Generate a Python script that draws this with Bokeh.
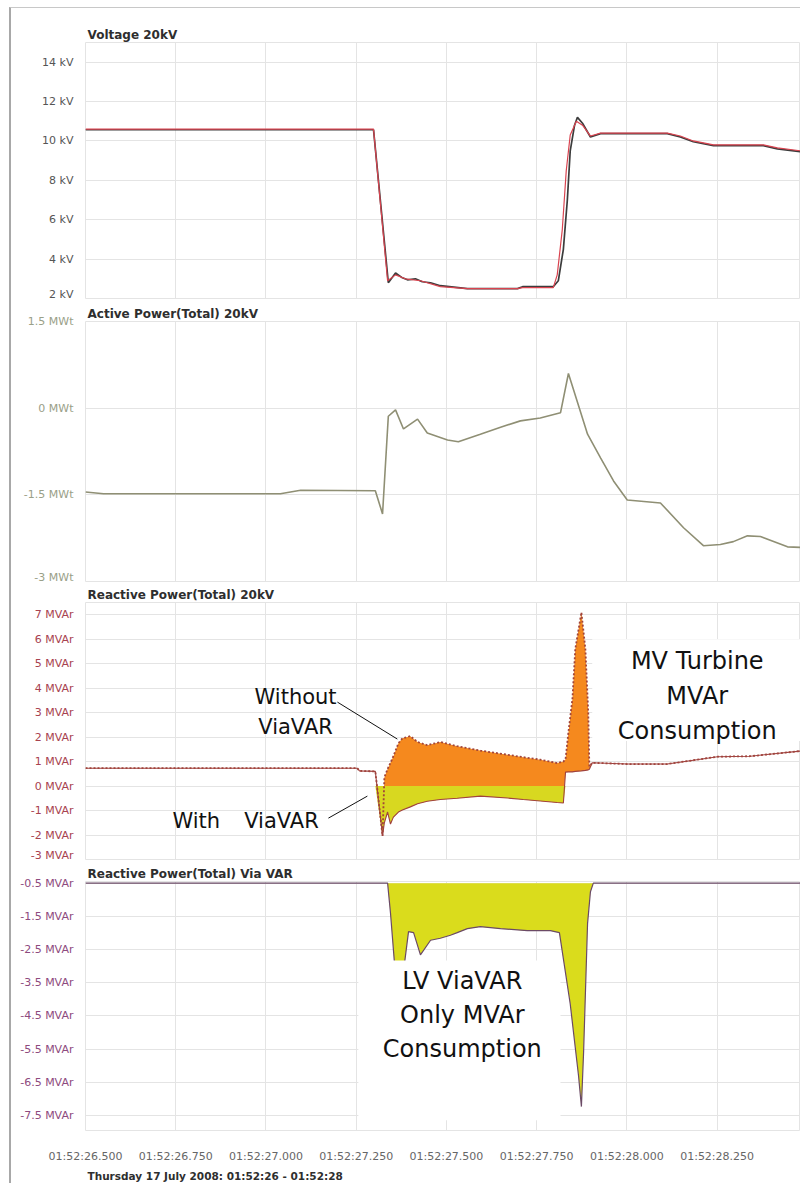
from bokeh.plotting import figure
from bokeh.layouts import column
from bokeh.models import Range1d, FixedTicker, Grid, Label, BoxAnnotation, Arrow, Title
from bokeh.embed import file_html
from bokeh.resources import INLINE
import numpy as np

# ---------------- data (seconds after 01:52:00) ----------------
time_ticks = [26.5, 26.75, 27.0, 27.25, 27.5, 27.75, 28.0, 28.25]
time_tick_labels = ["01:52:26.500", "01:52:26.750", "01:52:27.000", "01:52:27.250",
                    "01:52:27.500", "01:52:27.750", "01:52:28.000", "01:52:28.250"]
x_axis_title = "Thursday 17 July 2008: 01:52:26 - 01:52:28"

voltage_ticks = [2, 4, 6, 8, 10, 12, 14]
voltage_tick_labels = ["2 kV", "4 kV", "6 kV", "8 kV", "10 kV", "12 kV", "14 kV"]
active_ticks = [-3, -1.5, 0, 1.5]
active_tick_labels = ["-3 MWt", "-1.5 MWt", "0 MWt", "1.5 MWt"]
reactive_ticks = [-3, -2, -1, 0, 1, 2, 3, 4, 5, 6, 7]
reactive_tick_labels = ["-3 MVAr", "-2 MVAr", "-1 MVAr", "0 MVAr", "1 MVAr", "2 MVAr",
                        "3 MVAr", "4 MVAr", "5 MVAr", "6 MVAr", "7 MVAr"]
viavar_ticks = [-7.5, -6.5, -5.5, -4.5, -3.5, -2.5, -1.5, -0.5]
viavar_tick_labels = ["-7.5 MVAr", "-6.5 MVAr", "-5.5 MVAr", "-4.5 MVAr", "-3.5 MVAr",
                      "-2.5 MVAr", "-1.5 MVAr", "-0.5 MVAr"]

# Voltage 20kV (two traces)
volt_dark_t = [26.500, 27.298, 27.339, 27.359, 27.378, 27.392, 27.414, 27.433, 27.456, 27.483,
               27.558, 27.697, 27.711, 27.796, 27.810, 27.824, 27.835, 27.843, 27.855, 27.863,
               27.877, 27.899, 27.927, 28.112, 28.148, 28.184, 28.240, 28.378, 28.417, 28.481]
volt_dark_kv = [10.57, 10.57, 2.8, 3.3, 3.05, 2.95, 3.0, 2.85, 2.8, 2.65,
                2.5, 2.5, 2.6, 2.6, 2.9, 4.5, 7.0, 9.5, 10.8, 11.2,
                10.9, 10.2, 10.37, 10.37, 10.2, 9.96, 9.76, 9.76, 9.6, 9.45]
volt_red_t = [26.500, 27.298, 27.337, 27.359, 27.386, 27.428, 27.483, 27.558, 27.697, 27.711,
              27.796, 27.807, 27.821, 27.832, 27.843, 27.860, 27.877, 27.899, 27.927, 28.112,
              28.148, 28.184, 28.240, 28.378, 28.417, 28.481]
volt_red_kv = [10.6, 10.6, 2.9, 3.2, 3.0, 2.9, 2.6, 2.5, 2.5, 2.55,
               2.55, 3.2, 5.5, 8.5, 10.3, 11.0, 10.8, 10.25, 10.4, 10.4,
               10.25, 10.0, 9.8, 9.8, 9.65, 9.5]

# Active Power(Total) 20kV
active_t = [26.500, 26.550, 27.040, 27.096, 27.303, 27.323, 27.339, 27.359, 27.381, 27.420,
            27.447, 27.503, 27.533, 27.594, 27.650, 27.705, 27.760, 27.816, 27.838, 27.891,
            27.927, 27.963, 28.001, 28.093, 28.157, 28.212, 28.259, 28.295, 28.334, 28.370,
            28.445, 28.481]
active_mw = [-1.45, -1.48, -1.48, -1.42, -1.43, -1.83, -0.14, -0.03, -0.36, -0.19,
             -0.43, -0.55, -0.58, -0.45, -0.33, -0.22, -0.17, -0.08, 0.60, -0.45,
             -0.86, -1.26, -1.59, -1.64, -2.07, -2.38, -2.36, -2.31, -2.21, -2.22,
             -2.40, -2.41]

# Reactive Power(Total) 20kV: with and without ViaVAR
reactive_t = [26.500, 27.253, 27.259, 27.303, 27.323, 27.328, 27.337, 27.345, 27.353, 27.367,
              27.378, 27.400, 27.420, 27.447, 27.483, 27.530, 27.594, 27.669, 27.713, 27.760,
              27.807, 27.824, 27.830, 27.838, 27.849, 27.857, 27.874, 27.885, 27.893, 27.896,
              27.904, 28.001, 28.112, 28.251, 28.342, 28.481]
reactive_with = [0.73, 0.73, 0.62, 0.60, -2.04, -1.5, -1.06, -1.55, -1.27, -1.06,
                 -0.98, -0.85, -0.72, -0.62, -0.55, -0.50, -0.41, -0.49, -0.55, -0.61,
                 -0.67, -0.69, 0.57, 0.58, 0.58, 0.60, 0.62, 0.64, 0.66, 0.69,
                 0.95, 0.90, 0.90, 1.20, 1.22, 1.43]
reactive_without = [0.73, 0.73, 0.62, 0.60, -2.04, 0.35, 0.70, 0.95, 1.22, 1.75,
                    1.95, 2.04, 1.80, 1.67, 1.80, 1.63, 1.45, 1.28, 1.18, 1.08,
                    0.94, 1.00, 1.10, 2.20, 3.55, 5.60, 7.10, 5.60, 3.00, 0.80,
                    0.95, 0.90, 0.90, 1.20, 1.22, 1.43]

# Reactive Power(Total) Via VAR
viavar_base = -0.5
viavar_t = [26.500, 27.337, 27.345, 27.356, 27.367, 27.384, 27.395, 27.409, 27.428, 27.456,
            27.483, 27.511, 27.530, 27.558, 27.594, 27.650, 27.724, 27.788, 27.813, 27.843,
            27.866, 27.874, 27.880, 27.891, 27.899, 27.907, 28.481]
viavar_mvar = [-0.5, -0.5, -1.4, -2.9, -3.6, -2.9, -1.96, -1.99, -2.66, -2.22,
               -2.16, -2.07, -1.99, -1.87, -1.81, -1.87, -1.93, -1.93, -1.99, -4.14,
               -6.3, -7.23, -5.6, -1.72, -0.76, -0.5, -0.5]

# ---------------- styling ----------------
FONT = "DejaVu Sans"
GRID = "#e4e4e4"
xr = Range1d(26.5, 28.481)


def panel(height, top, bottom, yr, ticks, labels, label_color, title, show_x=False):
    p = figure(width=789, height=height, x_range=xr, y_range=Range1d(*yr),
               output_backend="svg", toolbar_location=None,
               min_border_left=74, min_border_right=0, min_border_top=top,
               min_border_bottom=bottom,
               x_axis_location="below" if show_x else None)
    p.background_fill_color = "white"
    p.border_fill_color = "white"
    p.outline_line_color = GRID
    p.title.text = title
    p.title.align = "left"
    p.title.offset = 2
    p.title.standoff = 2
    p.title.text_font = FONT
    p.title.text_font_size = "12px"
    p.title.text_font_style = "bold"
    p.title.text_color = "#2e2e2e"
    ax = p.yaxis[0]
    ax.ticker = FixedTicker(ticks=ticks)
    ax.major_label_overrides = dict(zip(ticks, labels))
    ax.axis_line_color = None
    ax.major_tick_line_color = None
    ax.minor_tick_line_color = None
    ax.major_tick_out = 0
    ax.major_tick_in = 0
    ax.minor_tick_out = 0
    ax.major_label_standoff = 12
    ax.major_label_text_font = FONT
    ax.major_label_text_font_size = "11px"
    ax.major_label_text_color = label_color
    p.ygrid.ticker = FixedTicker(ticks=ticks)
    p.ygrid.grid_line_color = GRID
    if show_x:
        xa = p.xaxis[0]
        xa.ticker = FixedTicker(ticks=time_ticks)
        xa.major_label_overrides = dict(zip(time_ticks, time_tick_labels))
        xa.axis_line_color = None
        xa.major_tick_line_color = None
        xa.minor_tick_line_color = None
        xa.major_label_standoff = 13
        xa.major_label_text_font = FONT
        xa.major_label_text_font_size = "11px"
        xa.major_label_text_color = "#666666"
        p.xgrid.ticker = FixedTicker(ticks=time_ticks)
        p.xgrid.grid_line_color = GRID
    else:
        p.add_layout(Grid(dimension=0, ticker=FixedTicker(ticks=time_ticks),
                          grid_line_color=GRID))
    return p


# Panel 1: Voltage
p1 = panel(292, 34, 2, (2, 15), voltage_ticks, voltage_tick_labels, "#555555", "Voltage 20kV")
p1.line(volt_dark_t, volt_dark_kv, line_color="#3c3c3c", line_width=1.7)
p1.line(volt_red_t, volt_red_kv, line_color="#d9434f", line_width=1.2)

# Panel 2: Active power
p2 = panel(283, 21, 2, (-3, 1.5), active_ticks, active_tick_labels, "#9aa088",
           "Active Power(Total) 20kV")
p2.line(active_t, active_mw, line_color="#8f8f74", line_width=1.6)

# Panel 3: Reactive power 20kV
p3 = panel(278, 19, 2, (-3, 7.5), reactive_ticks, reactive_tick_labels, "#a8424f",
           "Reactive Power(Total) 20kV")
rw = np.array(reactive_with)
rwo = np.array(reactive_without)
p3.varea(x=reactive_t, y1=rw, y2=rwo, fill_color="#f5891e")
p3.varea(x=reactive_t, y1=np.minimum(rw, 0), y2=np.zeros_like(rw), fill_color="#d8d820")
p3.line(reactive_t, reactive_without, line_color="#a2453a", line_width=1.8, line_dash="2 2")
p3.line(reactive_t, reactive_with, line_color="#a0433f", line_width=1.1)

p3.add_layout(BoxAnnotation(left=27.904, right=28.6, top=6.0, bottom=1.84,
                            fill_color="white", fill_alpha=1.0, line_color=None))
p3.add_layout(Label(x=28.195, y=3.67, text="MV Turbine\nMVAr\nConsumption",
                    text_align="center", text_baseline="middle", text_font=FONT,
                    text_font_size="24px", text_line_height=1.25, text_color="#111111"))
p3.add_layout(Label(x=27.082, y=3.02, text="Without\nViaVAR", text_align="center",
                    text_baseline="middle", text_font=FONT, text_font_size="21px",
                    text_line_height=1.24, text_color="#111111"))
p3.add_layout(Label(x=26.807, y=-1.43, text="With", text_align="center",
                    text_baseline="middle", text_font=FONT, text_font_size="21px",
                    text_color="#111111"))
p3.add_layout(Label(x=27.043, y=-1.43, text="ViaVAR", text_align="center",
                    text_baseline="middle", text_font=FONT, text_font_size="21px",
                    text_color="#111111"))
p3.add_layout(Arrow(end=None, x_start=27.198, y_start=3.43, x_end=27.364, y_end=1.92,
                    line_color="#111111", line_width=1))
p3.add_layout(Arrow(end=None, x_start=27.173, y_start=-1.31, x_end=27.281, y_end=-0.41,
                    line_color="#111111", line_width=1))

# Panel 4: Reactive power via VAR
p4 = panel(322, 20, 45, (-7.95, -0.45), viavar_ticks, viavar_tick_labels, "#8e4a7e",
           "Reactive Power(Total) Via VAR", show_x=True)
p4.varea(x=viavar_t, y1=viavar_mvar, y2=[viavar_base] * len(viavar_t), fill_color="#dadc1c")
p4.line(viavar_t, viavar_mvar, line_color="#6b4a66", line_width=1.2)
p4.add_layout(BoxAnnotation(left=27.256, right=27.816, top=-2.83, bottom=-7.64,
                            fill_color="white", fill_alpha=1.0, line_color=None))
p4.add_layout(Label(x=27.544, y=-4.47, text="LV ViaVAR\nOnly MVAr\nConsumption",
                    text_align="center", text_baseline="middle", text_font=FONT,
                    text_font_size="24px", text_line_height=1.2, text_color="#111111"))
p4.add_layout(Title(text=x_axis_title, align="left", offset=2, standoff=4,
                    text_font=FONT, text_font_size="10.5px", text_font_style="bold",
                    text_color="#2e2e2e"), "below")

layout = column(p1, p2, p3, p4, spacing=0,
                styles={"margin-left": "9px", "margin-top": "7px",
                        "border-left": "2px solid #a8a8a8", "border-top": "1px solid #c8c8c8"})

open("out.html", "w").write(file_html(layout, INLINE))
